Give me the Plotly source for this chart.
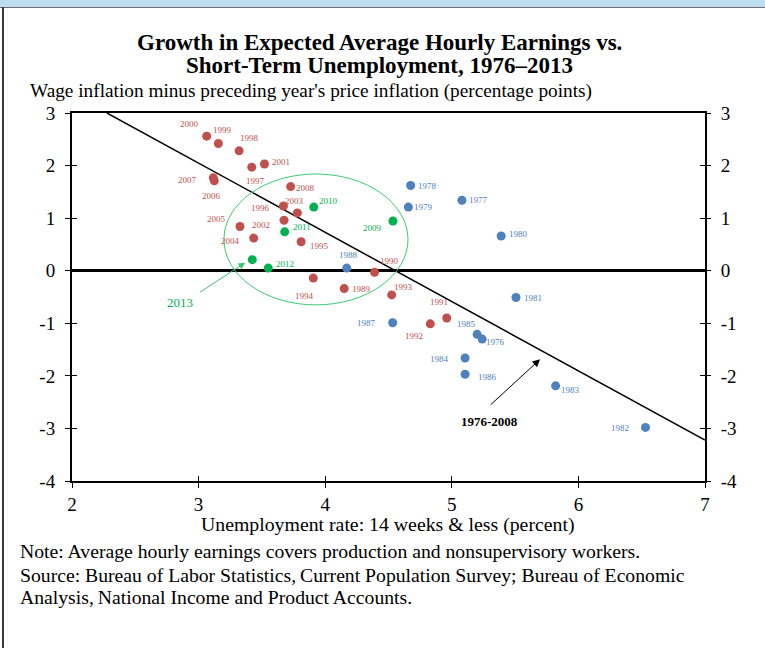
import plotly.graph_objects as go

# data
years = list(range(1976, 2014))
unemployment = [5.24, 5.08, 4.675, 4.657, 5.39, 5.507, 6.53, 5.82, 5.105, 5.20,
                5.105, 4.533, 4.17, 4.15, 4.39, 4.96, 4.83, 4.525, 3.906, 3.81,
                3.67, 3.42, 3.32, 3.156, 3.064, 3.52, 3.675, 3.78, 3.435, 3.327,
                3.124, 3.116, 3.727, 4.535, 3.91, 3.68, 3.55, 3.424]
wage_growth = [-1.30, 1.34, 1.62, 1.21, 0.66, -0.51, -2.98, -2.19, -1.66, -1.21,
               -1.97, -0.99, 0.05, -0.34, -0.03, -0.90, -1.01, -0.46, -0.14, 0.55,
               1.23, 1.97, 2.28, 2.42, 2.56, 2.03, 0.96, 1.10, 0.62, 0.84,
               1.71, 1.77, 1.60, 0.945, 1.21, 0.74, 0.05, 0.21]
trend_x = [2.276, 7.0]
trend_y = [3.0, -3.22]
x_ticks = [2, 3, 4, 5, 6, 7]
y_ticks = [-4, -3, -2, -1, 0, 1, 2, 3]
y_tick_text = ["-4", "-3", "-2", "-1", "0", "1", "2", "3"]

RED = "#C0504D"
BLUE = "#4F81BD"
GREEN = "#00B050"
FONT = "Liberation Serif"

# label offsets in pixels (dx right, dy down)
label_offsets = {
    1976: (13, 3), 1977: (17, 0), 1978: (17, 0), 1979: (15, 0), 1980: (17, -2),
    1981: (17, 0), 1982: (-26, 1), 1983: (15, 4), 1984: (-26, 1), 1985: (-11, -10),
    1986: (22, 3), 1987: (-26, 0), 1988: (2, -13), 1989: (17, 0), 1990: (15, -11),
    1991: (-8, -16), 1992: (-16, 12), 1993: (12, -8), 1994: (-9, 18), 1995: (18, 4),
    1996: (-23, 2), 1997: (4, 14), 1998: (10, -13), 1999: (4, -13), 2000: (-17, -12),
    2001: (17, -2), 2002: (-23, 5), 2003: (-3, -12), 2004: (-23, 3), 2005: (-24, -8),
    2006: (-3, 15), 2007: (-26, 2), 2008: (15, 1), 2009: (-20, 7), 2010: (15, -6),
    2011: (17, -5), 2012: (17, -4),
}

L, R, T, B = 72, 60, 113, 167
W, H = 765, 648


def px(x):
    return (x - L) / (W - L - R)


def py(y):
    return (H - B - y) / (H - T - B)


def year_color(y):
    if y <= 1988:
        return BLUE
    if y <= 2008:
        return RED
    return GREEN


colors = [year_color(y) for y in years]

fig = go.Figure()
fig.add_trace(go.Scatter(x=trend_x, y=trend_y, mode="lines",
                         line=dict(color="black", width=1.5), hoverinfo="skip"))
fig.add_trace(go.Scatter(x=unemployment, y=wage_growth, mode="markers",
                         marker=dict(color=colors, size=9), text=years))
# empty traces so the extra tick axes get drawn
for xa, ya in [("x", "y2"), ("x2", "y"), ("x", "y3"), ("x", "y4")]:
    fig.add_trace(go.Scatter(x=[], y=[], xaxis=xa, yaxis=ya, mode="markers", hoverinfo="skip"))

annotations = []
for yr, ux, wy in zip(years, unemployment, wage_growth):
    if yr not in label_offsets:
        continue
    dx, dy = label_offsets[yr]
    annotations.append(dict(x=ux, y=wy, text=str(yr), showarrow=False, xshift=dx, yshift=-dy,
                            font=dict(family=FONT, size=9, color=year_color(yr))))

# 2013 arrow and trend arrow
annotations.append(dict(x=3.367, y=0.152, ax=2.998, ay=-0.43, axref="x", ayref="y",
                        text="", showarrow=True, arrowhead=2, arrowsize=1.3, arrowwidth=1,
                        arrowcolor="#33C46A"))
annotations.append(dict(x=2.853, y=-0.61, text="2013", showarrow=False,
                        font=dict(family=FONT, size=13, color=GREEN)))
annotations.append(dict(x=5.697, y=-1.685, ax=5.296, ay=-2.574, axref="x", ayref="y",
                        text="", showarrow=True, arrowhead=2, arrowsize=1.5, arrowwidth=1,
                        arrowcolor="black"))
annotations.append(dict(x=5.294, y=-2.86, text="<b>1976-2008</b>", showarrow=False,
                        font=dict(family=FONT, size=13, color="black")))


# text outside the plot
def text_note(x, y, text, size=19.7, anchor="left"):
    annotations.append(dict(xref="paper", yref="paper", x=px(x), y=py(y), text=text,
                            showarrow=False, xanchor=anchor, yanchor="middle",
                            font=dict(family=FONT, size=size, color="black")))


text_note(379, 42, "<b>Growth in Expected Average Hourly Earnings vs.</b>", size=23, anchor="center")
text_note(379, 66, "<b>Short-Term Unemployment, 1976\u20132013</b>", size=23, anchor="center")
text_note(28, 91, "Wage inflation minus preceding year's price inflation (percentage points)", size=19.3)
text_note(388, 524, "Unemployment rate: 14 weeks &amp; less (percent)", size=19.8, anchor="center")
text_note(18, 551, "Note: Average hourly earnings covers production and nonsupervisory workers.")
text_note(18, 575, "Source: Bureau of Labor Statistics,\u2009Current Population Survey; Bureau of Economic")
text_note(18, 597, "Analysis,\u2009National Income and Product Accounts.")

shapes = [
    dict(type="circle", xref="x", yref="y", x0=3.20, x1=4.654, y0=-0.65, y1=1.84,
         line=dict(color="#3CCB74", width=1)),
    dict(type="rect", xref="paper", yref="paper", x0=px(0), x1=px(W), y0=py(7), y1=py(0),
         fillcolor="#BEDDF1", line=dict(width=0), layer="below"),
    dict(type="line", xref="paper", yref="paper", x0=px(0), x1=px(W), y0=py(7.5), y1=py(7.5),
         line=dict(color="#6E6E6E", width=1)),
    dict(type="line", xref="paper", yref="paper", x0=px(3), x1=px(3), y0=py(7), y1=py(H),
         line=dict(color="#3A3A3A", width=2)),
]

axis_font = dict(family=FONT, size=19, color="black")
fig.update_layout(
    width=W, height=H, showlegend=False,
    margin=dict(l=L, r=R, t=T, b=B),
    paper_bgcolor="white", plot_bgcolor="white",
    annotations=annotations, shapes=shapes,
    xaxis=dict(range=[2, 7], tickvals=x_ticks, showgrid=False, zeroline=False,
               showline=True, linecolor="black", linewidth=2, mirror=True,
               ticks="outside", ticklen=5, tickcolor="black", tickwidth=1,
               tickfont=axis_font),
    yaxis=dict(range=[-4, 3], tickvals=y_ticks, ticktext=y_tick_text, showgrid=False,
               zeroline=True, zerolinecolor="black", zerolinewidth=2.5,
               showline=True, linecolor="black", linewidth=2, mirror=True,
               ticks="outside", ticklen=5, tickcolor="black", tickwidth=1,
               tickfont=axis_font, ticklabelstandoff=6),
    yaxis2=dict(range=[-4, 3], tickvals=y_ticks, ticktext=y_tick_text, overlaying="y", side="right",
                showgrid=False, zeroline=False, showline=False,
                ticks="outside", ticklen=5, tickcolor="black", tickwidth=1,
                tickfont=axis_font, ticklabelstandoff=6),
    xaxis2=dict(range=[2, 7], tickvals=x_ticks, overlaying="x", side="bottom", anchor="y",
                showgrid=False, zeroline=False, showline=False, showticklabels=False,
                ticks="inside", ticklen=5, tickcolor="black", tickwidth=1),
    yaxis3=dict(range=[-4, 3], tickvals=y_ticks, overlaying="y", side="left",
                showgrid=False, zeroline=False, showline=False, showticklabels=False,
                ticks="inside", ticklen=5, tickcolor="black", tickwidth=1),
    yaxis4=dict(range=[-4, 3], tickvals=y_ticks, overlaying="y", side="right",
                showgrid=False, zeroline=False, showline=False, showticklabels=False,
                ticks="inside", ticklen=5, tickcolor="black", tickwidth=1),
)

# the default page has an 8px body margin; drop it so the figure sits at 0,0
fig.write_html("out.html", config={"displayModeBar": False},
               post_script="document.body.style.margin='0';")
